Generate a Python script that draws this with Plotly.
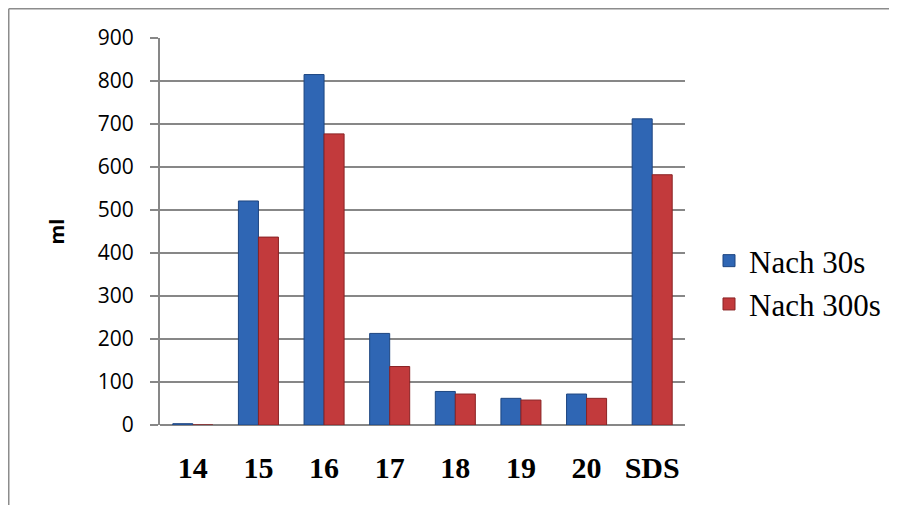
import plotly.graph_objects as go

categories = ["14", "15", "16", "17", "18", "19", "20", "SDS"]
nach_30s = [3, 521, 815, 213, 78, 62, 72, 712]
nach_300s = [0, 437, 677, 136, 72, 58, 62, 582]
y_ticks = [0, 100, 200, 300, 400, 500, 600, 700, 800, 900]

fig = go.Figure()
fig.add_trace(go.Bar(
    x=categories, y=nach_30s, name="Nach 30s",
    marker=dict(color="#2f66b4", line=dict(color="#1d4580", width=1)),
))
fig.add_trace(go.Bar(
    x=categories, y=nach_300s, name="Nach 300s",
    marker=dict(color="#c23a3c", line=dict(color="#8a2224", width=1)),
))

# figure is placed at (8, 8) in the page by the body margin
W, H = 893, 497
L, R, T, B = 152, 677, 30, 417
pw, ph = R - L, B - T

def px(x):
    return (x - L) / pw

def py(y):
    return (B - y) / ph

border = dict(color="#8c8c8c", width=1.5)
fig.add_shape(type="line", xref="paper", yref="paper",
              x0=px(0.75), x1=px(0.75), y0=py(0.75), y1=py(H), line=border, layer="below")
fig.add_shape(type="line", xref="paper", yref="paper",
              x0=px(0.75), x1=px(W - 12), y0=py(0.75), y1=py(0.75), line=border, layer="below")

fig.update_layout(
    width=W, height=H,
    margin=dict(l=L, r=W - R, t=T, b=H - B, pad=0),
    paper_bgcolor="white", plot_bgcolor="white",
    barmode="group", bargap=0.39, bargroupgap=0,
    showlegend=True,
    legend=dict(
        x=px(701), y=py(274.5), xanchor="left", yanchor="middle",
        font=dict(family="Liberation Serif", size=31, color="black"),
        bgcolor="rgba(0,0,0,0)", itemwidth=30, tracegroupgap=0,
    ),
    xaxis=dict(
        showline=False, showgrid=False, ticks="",
        tickfont=dict(family="Liberation Serif", size=30, color="black", weight="bold"),
        ticklabelstandoff=22,
    ),
    yaxis=dict(
        range=[0, 900], tickvals=y_ticks, ticktext=[str(v) for v in y_ticks],
        showgrid=True, gridcolor="#878787", gridwidth=2,
        showline=True, linecolor="#878787", linewidth=2,
        ticks="outside", ticklen=8, tickcolor="#878787", tickwidth=2,
        tickfont=dict(family="Open Sans", size=21, color="black"),
        ticklabelstandoff=12,
        zeroline=True, zerolinecolor="#878787", zerolinewidth=2,
        title=dict(text="ml", font=dict(family="Open Sans", size=20, color="black", weight="bold"),
                   standoff=28),
    ),
)

fig.write_html("out.html")
